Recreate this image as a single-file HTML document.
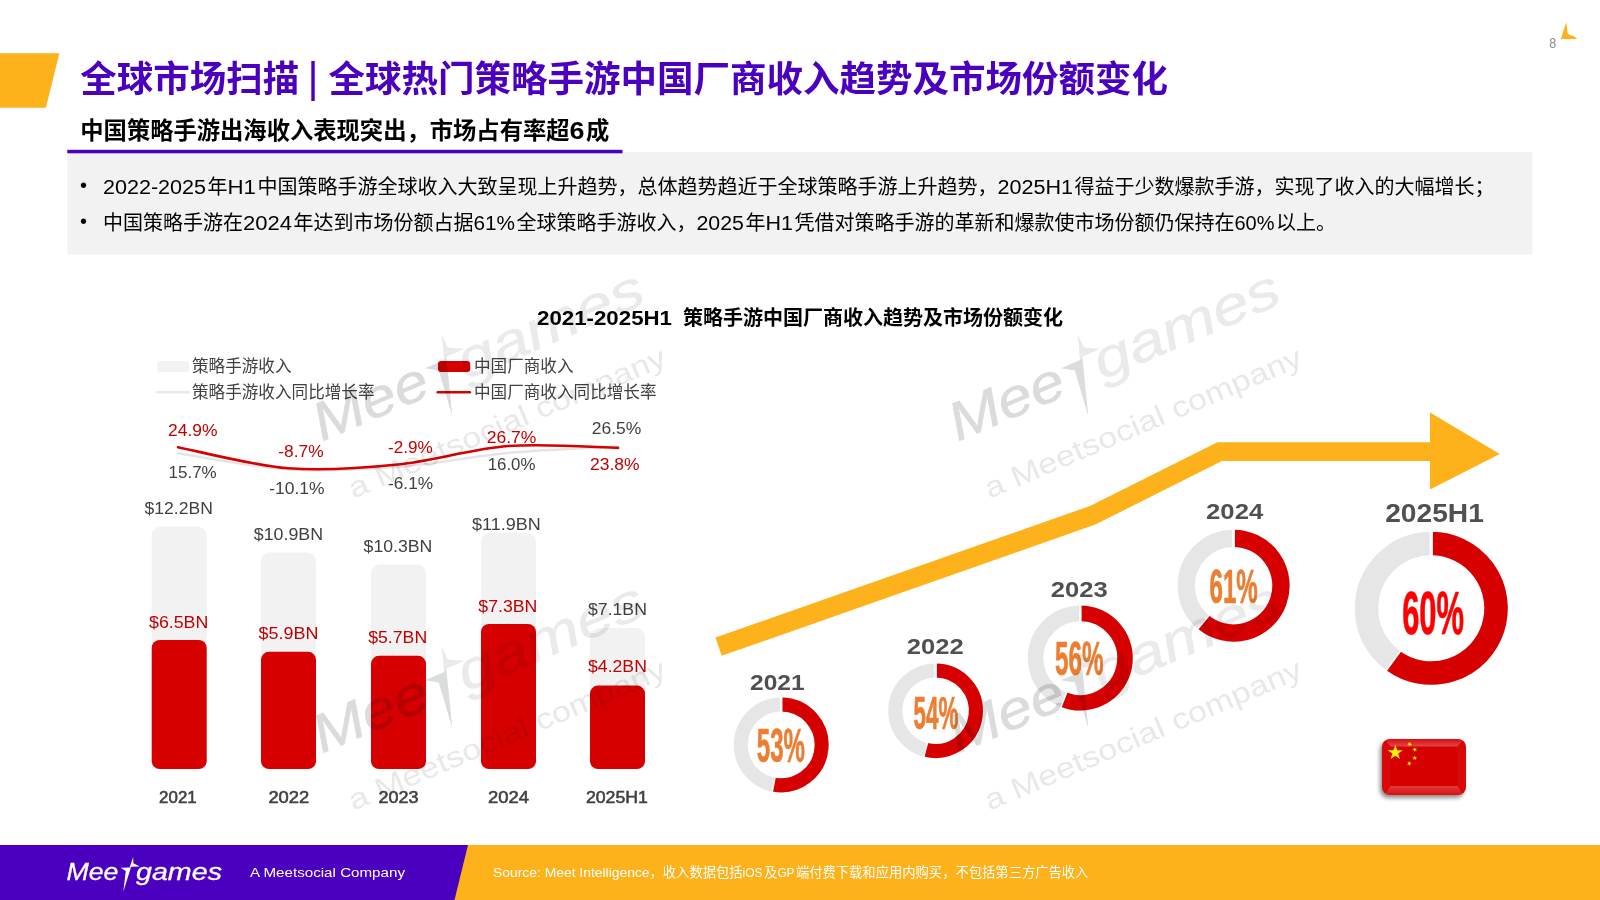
<!DOCTYPE html>
<html lang="zh-CN"><head><meta charset="utf-8"><title>全球市场扫描</title>
<style>html,body{margin:0;padding:0;background:#fff;}body{width:1600px;height:900px;overflow:hidden;}svg{display:block;font-family:"Liberation Sans","Noto Sans CJK SC",sans-serif;}</style></head><body>
<svg width="1600" height="900" viewBox="0 0 1600 900">
<polygon points="0,53.3 59.4,53.3 45.9,107.8 0,107.8" fill="#FDB21B"/>
<text x="80.2" y="91.8" font-size="36.5" fill="#4A00BE" font-weight="700">全球市场扫描</text>
<text x="307.5" y="92.3" font-size="42.5" fill="#4A00BE">|</text>
<text x="328.5" y="91.8" font-size="36.5" fill="#4A00BE" font-weight="700">全球热门策略手游中国厂商收入趋势及市场份额变化</text>
<text x="80.3" y="139.4" font-size="23.3" fill="#000" font-weight="700">中国策略手游出海收入表现突出，市场占有率超</text>
<text x="569.6" y="139.4" font-size="23.3" fill="#000" font-weight="700" textLength="15.0" lengthAdjust="spacingAndGlyphs">6</text>
<text x="586.1" y="139.4" font-size="23.3" fill="#000" font-weight="700">成</text>
<rect x="67.3" y="152" width="1465.1" height="102.5" fill="#F2F2F2"/>
<rect x="67.3" y="149.8" width="555.2" height="3.5" fill="#4A00BE"/>
<text x="80.1" y="192.2" font-size="20" fill="#000">•</text>
<text x="80.1" y="228" font-size="20" fill="#000">•</text>
<text x="103.0" y="193.7" font-size="20" fill="#000" textLength="103.0" lengthAdjust="spacingAndGlyphs">2022-2025</text>
<text x="207.5" y="193.7" font-size="20" fill="#000">年</text>
<text x="227.5" y="193.7" font-size="20" fill="#000" textLength="28.5" lengthAdjust="spacingAndGlyphs">H1</text>
<text x="257.5" y="193.7" font-size="20" fill="#000">中国策略手游全球收入大致呈现上升趋势，总体趋势趋近于全球策略手游上升趋势，</text>
<text x="997.5" y="193.7" font-size="20" fill="#000" textLength="75.5" lengthAdjust="spacingAndGlyphs">2025H1</text>
<text x="1074.5" y="193.7" font-size="20" fill="#000">得益于少数爆款手游，实现了收入的大幅增长；</text>
<text x="103" y="230" font-size="20" fill="#000">中国策略手游在</text>
<text x="243.0" y="230" font-size="20" fill="#000" textLength="49.0" lengthAdjust="spacingAndGlyphs">2024</text>
<text x="293.5" y="230" font-size="20" fill="#000">年达到市场份额占据</text>
<text x="473.5" y="230" font-size="20" fill="#000" textLength="41.5" lengthAdjust="spacingAndGlyphs">61%</text>
<text x="516.5" y="230" font-size="20" fill="#000">全球策略手游收入，</text>
<text x="696.5" y="230" font-size="20" fill="#000" textLength="47.5" lengthAdjust="spacingAndGlyphs">2025</text>
<text x="745.5" y="230" font-size="20" fill="#000">年</text>
<text x="765.5" y="230" font-size="20" fill="#000" textLength="27.5" lengthAdjust="spacingAndGlyphs">H1</text>
<text x="794.5" y="230" font-size="20" fill="#000">凭借对策略手游的革新和爆款使市场份额仍保持在</text>
<text x="1234.5" y="230" font-size="20" fill="#000" textLength="40.0" lengthAdjust="spacingAndGlyphs">60%</text>
<text x="1276.0" y="230" font-size="20" fill="#000">以上。</text>
<text x="1549.2" y="48.2" font-size="14.5" fill="#8C8C8C" textLength="7" lengthAdjust="spacingAndGlyphs">8</text>
<path d="M1560.8,38.9 L1566.3,22 L1567.6,33 Q1568.2,34.6 1570.2,35.1 L1573.6,36.1 L1577.3,38.9 Z" fill="#FDB21B"/>
<text x="537" y="325.2" font-size="20" fill="#000" font-weight="700" textLength="135" lengthAdjust="spacingAndGlyphs">2021-2025H1</text>
<text x="683" y="325.2" font-size="20" fill="#000" font-weight="700">策略手游中国厂商收入趋势及市场份额变化</text>
<rect x="157" y="361" width="32" height="11" rx="3" fill="#F2F2F2"/>
<rect x="438" y="361" width="32.2" height="11" rx="3" fill="#D60000"/>
<line x1="157.5" y1="392.3" x2="189" y2="392.3" stroke="#E9E9E9" stroke-width="2.6" stroke-linecap="round"/>
<line x1="437.7" y1="392.3" x2="469.8" y2="392.3" stroke="#D60000" stroke-width="2.6" stroke-linecap="round"/>
<text x="192" y="371.5" font-size="16.6" fill="#404040">策略手游收入</text>
<text x="474" y="371.5" font-size="16.6" fill="#404040">中国厂商收入</text>
<text x="192" y="397.8" font-size="16.6" fill="#404040">策略手游收入同比增长率</text>
<text x="474" y="397.8" font-size="16.6" fill="#404040">中国厂商收入同比增长率</text>
<rect x="151.7" y="526.7" width="55" height="242.3" rx="9" fill="#F2F2F2"/>
<rect x="151.7" y="639.9" width="55" height="129.1" rx="8" fill="#D60000"/>
<rect x="261" y="552.5" width="55" height="216.5" rx="9" fill="#F2F2F2"/>
<rect x="261" y="651.8" width="55" height="117.2" rx="8" fill="#D60000"/>
<rect x="371" y="564.4" width="55" height="204.6" rx="9" fill="#F2F2F2"/>
<rect x="371" y="655.8" width="55" height="113.2" rx="8" fill="#D60000"/>
<rect x="481" y="532.7" width="55" height="236.3" rx="9" fill="#F2F2F2"/>
<rect x="481" y="624.0" width="55" height="145.0" rx="8" fill="#D60000"/>
<rect x="590" y="628.0" width="55" height="141.0" rx="9" fill="#F2F2F2"/>
<rect x="590" y="685.6" width="55" height="83.4" rx="8" fill="#D60000"/>
<text x="144.6" y="513.6" font-size="15.6" fill="#404040" textLength="68.3" lengthAdjust="spacingAndGlyphs">$12.2BN</text>
<text x="253.8" y="539.9" font-size="15.6" fill="#404040" textLength="69.3" lengthAdjust="spacingAndGlyphs">$10.9BN</text>
<text x="363.6" y="551.6" font-size="15.6" fill="#404040" textLength="68.7" lengthAdjust="spacingAndGlyphs">$10.3BN</text>
<text x="472.0" y="530.4" font-size="15.6" fill="#404040" textLength="68.7" lengthAdjust="spacingAndGlyphs">$11.9BN</text>
<text x="588.0" y="614.9" font-size="15.6" fill="#404040" textLength="58.9" lengthAdjust="spacingAndGlyphs">$7.1BN</text>
<text x="149.0" y="627.8" font-size="15.6" fill="#C00000" textLength="59.3" lengthAdjust="spacingAndGlyphs">$6.5BN</text>
<text x="258.6" y="639.4" font-size="15.6" fill="#C00000" textLength="59.8" lengthAdjust="spacingAndGlyphs">$5.9BN</text>
<text x="368.2" y="642.5" font-size="15.6" fill="#C00000" textLength="59.0" lengthAdjust="spacingAndGlyphs">$5.7BN</text>
<text x="478.3" y="612.2" font-size="15.6" fill="#C00000" textLength="59.0" lengthAdjust="spacingAndGlyphs">$7.3BN</text>
<text x="588.0" y="671.7" font-size="15.6" fill="#C00000" textLength="58.9" lengthAdjust="spacingAndGlyphs">$4.2BN</text>
<text x="159.1" y="802.8" font-size="16.4" fill="#404040" textLength="37.6" lengthAdjust="spacingAndGlyphs" stroke="#404040" stroke-width="0.55">2021</text>
<text x="268.4" y="802.8" font-size="16.4" fill="#404040" textLength="40.8" lengthAdjust="spacingAndGlyphs" stroke="#404040" stroke-width="0.55">2022</text>
<text x="378.4" y="802.8" font-size="16.4" fill="#404040" textLength="40.0" lengthAdjust="spacingAndGlyphs" stroke="#404040" stroke-width="0.55">2023</text>
<text x="487.9" y="802.8" font-size="16.4" fill="#404040" textLength="41.0" lengthAdjust="spacingAndGlyphs" stroke="#404040" stroke-width="0.55">2024</text>
<text x="585.9" y="802.8" font-size="16.4" fill="#404040" textLength="62.0" lengthAdjust="spacingAndGlyphs" stroke="#404040" stroke-width="0.55">2025H1</text>
<text x="168.1" y="435.9" font-size="15.6" fill="#C00000" textLength="49.5" lengthAdjust="spacingAndGlyphs">24.9%</text>
<text x="168.6" y="477.9" font-size="15.6" fill="#404040" textLength="48.1" lengthAdjust="spacingAndGlyphs">15.7%</text>
<text x="278.3" y="457.3" font-size="15.6" fill="#C00000" textLength="45.3" lengthAdjust="spacingAndGlyphs">-8.7%</text>
<text x="269.2" y="494" font-size="15.6" fill="#404040" textLength="55.3" lengthAdjust="spacingAndGlyphs">-10.1%</text>
<text x="388.0" y="452.9" font-size="15.6" fill="#C00000" textLength="44.8" lengthAdjust="spacingAndGlyphs">-2.9%</text>
<text x="388.0" y="488.8" font-size="15.6" fill="#404040" textLength="45.1" lengthAdjust="spacingAndGlyphs">-6.1%</text>
<text x="486.8" y="443.3" font-size="15.6" fill="#C00000" textLength="49.6" lengthAdjust="spacingAndGlyphs">26.7%</text>
<text x="487.7" y="469.9" font-size="15.6" fill="#404040" textLength="47.8" lengthAdjust="spacingAndGlyphs">16.0%</text>
<text x="591.8" y="433.6" font-size="15.6" fill="#404040" textLength="49.6" lengthAdjust="spacingAndGlyphs">26.5%</text>
<text x="590.1" y="469.5" font-size="15.6" fill="#C00000" textLength="49.5" lengthAdjust="spacingAndGlyphs">23.8%</text>
<path d="M178,453.25 C196.33,455.94 251.33,467.10 288,469.38 C324.67,471.65 361.33,469.59 398,466.88 C434.67,464.16 471.33,456.46 508,453.06 C544.67,449.67 599.67,447.59 618,446.50" fill="none" stroke="#E4E4E4" stroke-width="2.4" stroke-linecap="round"/>
<path d="M178,447.20 C196.33,450.70 251.33,465.30 288,468.20 C324.67,471.10 361.33,468.26 398,464.57 C434.67,460.89 471.33,448.86 508,446.07 C544.67,443.29 599.67,447.59 618,447.89" fill="none" stroke="#D60000" stroke-width="2.6" stroke-linecap="round"/>
<polygon points="715.5,637.6 1090,506 1217.4,442.2 1430,442.2 1430,412.4 1499.8,454 1430,489.4 1430,460.9 1222,460.9 1095.3,524.6 721.7,655.8" fill="#FDB21B"/>
<circle cx="781.2" cy="744.9" r="40.4" fill="none" stroke="#E6E6E6" stroke-width="14"/>
<path d="M781.20,704.50 A40.4,40.4 0 1 1 773.63,784.58" fill="none" stroke="#D60000" stroke-width="14"/>
<line x1="781.20" y1="696.50" x2="781.20" y2="712.50" stroke="#fff" stroke-width="2.6"/>
<line x1="772.13" y1="792.44" x2="775.13" y2="776.73" stroke="#fff" stroke-width="1.56"/>
<text x="750.0" y="689.9" font-size="22.8" fill="#505050" font-weight="700" textLength="54.6" lengthAdjust="spacingAndGlyphs">2021</text>
<text x="756.8" y="762" font-size="47.5" fill="#ED7D31" font-weight="700" textLength="48.2" lengthAdjust="spacingAndGlyphs" stroke="#ED7D31" stroke-width="0.7" stroke-linejoin="round">53%</text>
<circle cx="935.6" cy="710.7" r="40.3" fill="none" stroke="#E6E6E6" stroke-width="14"/>
<path d="M935.60,670.40 A40.3,40.3 0 1 1 925.58,749.73" fill="none" stroke="#D60000" stroke-width="14"/>
<line x1="935.60" y1="662.40" x2="935.60" y2="678.40" stroke="#fff" stroke-width="2.6"/>
<line x1="923.59" y1="757.48" x2="927.57" y2="741.99" stroke="#fff" stroke-width="1.56"/>
<text x="906.8" y="653.6" font-size="22.8" fill="#505050" font-weight="700" textLength="56.9" lengthAdjust="spacingAndGlyphs">2022</text>
<text x="913.6" y="728.9" font-size="46" fill="#ED7D31" font-weight="700" textLength="44.9" lengthAdjust="spacingAndGlyphs" stroke="#ED7D31" stroke-width="0.7" stroke-linejoin="round">54%</text>
<circle cx="1080.3" cy="658.1" r="44.7" fill="none" stroke="#E6E6E6" stroke-width="15.6"/>
<path d="M1080.30,613.40 A44.7,44.7 0 1 1 1063.84,699.66" fill="none" stroke="#D60000" stroke-width="15.6"/>
<line x1="1080.30" y1="604.60" x2="1080.30" y2="622.20" stroke="#fff" stroke-width="2.6"/>
<line x1="1060.61" y1="707.84" x2="1067.08" y2="691.48" stroke="#fff" stroke-width="1.56"/>
<text x="1050.8" y="596.6" font-size="22.8" fill="#505050" font-weight="700" textLength="56.9" lengthAdjust="spacingAndGlyphs">2023</text>
<text x="1055.0" y="675.4" font-size="47.5" fill="#ED7D31" font-weight="700" textLength="48.6" lengthAdjust="spacingAndGlyphs" stroke="#ED7D31" stroke-width="0.7" stroke-linejoin="round">56%</text>
<circle cx="1233.6" cy="585.7" r="47.35" fill="none" stroke="#E6E6E6" stroke-width="17.3"/>
<path d="M1233.60,538.35 A47.35,47.35 0 1 1 1203.42,622.18" fill="none" stroke="#D60000" stroke-width="17.3"/>
<line x1="1233.60" y1="528.70" x2="1233.60" y2="548.00" stroke="#fff" stroke-width="2.6"/>
<line x1="1197.27" y1="629.62" x2="1209.57" y2="614.75" stroke="#fff" stroke-width="1.56"/>
<text x="1206.1" y="519.1" font-size="22.8" fill="#505050" font-weight="700" textLength="57.1" lengthAdjust="spacingAndGlyphs">2024</text>
<text x="1209.5" y="602.8" font-size="47.5" fill="#ED7D31" font-weight="700" textLength="48.3" lengthAdjust="spacingAndGlyphs" stroke="#ED7D31" stroke-width="0.7" stroke-linejoin="round">61%</text>
<circle cx="1431.3" cy="608.3" r="64.75" fill="none" stroke="#E6E6E6" stroke-width="23.5"/>
<path d="M1431.30,543.55 A64.75,64.75 0 1 1 1393.24,660.68" fill="none" stroke="#D60000" stroke-width="23.5"/>
<line x1="1431.30" y1="530.80" x2="1431.30" y2="556.30" stroke="#fff" stroke-width="3.2"/>
<line x1="1385.75" y1="671.00" x2="1400.74" y2="650.37" stroke="#fff" stroke-width="1.92"/>
<text x="1385.2" y="522" font-size="26.5" fill="#505050" font-weight="700" textLength="98.7" lengthAdjust="spacingAndGlyphs">2025H1</text>
<text x="1402.2" y="634.4" font-size="60.5" fill="#FF0000" font-weight="700" textLength="61.8" lengthAdjust="spacingAndGlyphs" stroke="#FF0000" stroke-width="0.7" stroke-linejoin="round">60%</text>
<defs><filter id="fs" x="-20%" y="-20%" width="140%" height="150%"><feGaussianBlur stdDeviation="2"/></filter><linearGradient id="fg" x1="0" y1="0" x2="0" y2="1"><stop offset="0" stop-color="#E82020"/><stop offset="0.14" stop-color="#F03030"/><stop offset="0.2" stop-color="#D60000"/><stop offset="0.8" stop-color="#D60000"/><stop offset="0.86" stop-color="#EE2828"/><stop offset="1" stop-color="#E01515"/></linearGradient></defs>
<rect x="1380" y="742" width="84" height="56" rx="8" fill="#000" opacity="0.45" filter="url(#fs)"/>
<clipPath id="fc"><rect x="1382" y="739" width="84" height="56" rx="8"/></clipPath>
<rect x="1382" y="739" width="84" height="56" rx="8" fill="#D60000"/>
<linearGradient id="ft" x1="0" y1="739" x2="0" y2="746.5" gradientUnits="userSpaceOnUse"><stop offset="0" stop-color="#fff" stop-opacity="0.06"/><stop offset="1" stop-color="#fff" stop-opacity="0.28"/></linearGradient><linearGradient id="fb" x1="0" y1="786" x2="0" y2="795" gradientUnits="userSpaceOnUse"><stop offset="0" stop-color="#fff" stop-opacity="0.24"/><stop offset="1" stop-color="#fff" stop-opacity="0.06"/></linearGradient>
<g clip-path="url(#fc)"><polygon points="1384,739 1464,739 1457.5,746.5 1390.5,746.5" fill="url(#ft)"/><polygon points="1384,795 1464,795 1457.5,786 1390.5,786" fill="url(#fb)"/><polygon points="1382,741 1390.5,746.5 1390.5,786 1382,793" fill="#fff" opacity="0.035"/><polygon points="1466,741 1457.5,746.5 1457.5,786 1466,793" fill="#fff" opacity="0.035"/></g>
<polygon points="1395.30,744.60 1397.10,750.13 1402.91,750.13 1398.21,753.54 1400.00,759.07 1395.30,755.66 1390.60,759.07 1392.39,753.54 1387.69,750.13 1393.50,750.13" fill="#FFEF00"/>
<polygon points="1410.85,741.92 1410.50,743.77 1412.16,744.68 1410.28,744.92 1409.93,746.78 1409.12,745.07 1407.25,745.31 1408.62,744.02 1407.82,742.31 1409.47,743.21" fill="#FFEF00"/>
<polygon points="1416.84,747.98 1415.79,749.56 1416.97,751.04 1415.15,750.53 1414.10,752.10 1414.02,750.22 1412.20,749.71 1413.97,749.05 1413.89,747.16 1415.07,748.64" fill="#FFEF00"/>
<polygon points="1414.80,755.40 1415.38,757.20 1417.27,757.20 1415.74,758.31 1416.33,760.10 1414.80,758.99 1413.27,760.10 1413.86,758.31 1412.33,757.20 1414.22,757.20" fill="#FFEF00"/>
<polygon points="1410.55,761.32 1410.20,763.17 1411.86,764.08 1409.98,764.32 1409.63,766.18 1408.82,764.47 1406.95,764.71 1408.32,763.42 1407.52,761.71 1409.17,762.61" fill="#FFEF00"/>
<rect x="0" y="845" width="1600" height="55" fill="#FDB21B"/>
<polygon points="0,845 468,845 454.5,900 0,900" fill="#4A00BE"/>
<text x="66.5" y="879.6" font-size="24.5" fill="#fff" textLength="52" lengthAdjust="spacingAndGlyphs" font-style="italic" stroke="#fff" stroke-width="0.3">Mee</text>
<text x="136" y="879.6" font-size="24.5" fill="#fff" textLength="86" lengthAdjust="spacingAndGlyphs" font-style="italic" stroke="#fff" stroke-width="0.3">games</text>
<g transform="translate(67.6,879.5) scale(0.435)"><polygon points="142.6,-27.3 121.9,-27.1 133.7,-19.5 128.1,28.1 146,-29.3" fill="#fff"/><polygon points="150.7,-51.6 142.6,-27.3 146,-29.3 165.9,-29.6 151.2,-37.2" fill="#fff"/></g>
<text x="250" y="877.4" font-size="12.7" fill="#fff" textLength="155" lengthAdjust="spacingAndGlyphs">A Meetsocial Company</text>
<text x="493" y="876.8" font-size="13.2" fill="#fff" textLength="156.5" lengthAdjust="spacingAndGlyphs">Source: Meet Intelligence</text>
<text x="649.5" y="876.8" font-size="13.3" fill="#fff">，收入数据包括</text>
<text x="742.6" y="876.8" font-size="13.3" fill="#fff" textLength="20.0" lengthAdjust="spacingAndGlyphs">iOS</text>
<text x="764.1" y="876.8" font-size="13.3" fill="#fff">及</text>
<text x="777.4" y="876.8" font-size="13.3" fill="#fff" textLength="17.0" lengthAdjust="spacingAndGlyphs">GP</text>
<text x="795.9" y="876.8" font-size="13.3" fill="#fff">端付费下载和应用内购买，不包括第三方广告收入</text>
<g transform="translate(323.5,441) rotate(-23.1)" style="mix-blend-mode:multiply"><text x="-2" y="0" font-size="54" font-style="italic" fill="#DADBDC" stroke="#DADBDC" stroke-width="0.5" textLength="121" lengthAdjust="spacingAndGlyphs">Mee</text><polygon points="142.6,-27.3 121.9,-27.1 133.7,-19.5 128.1,28.1 146,-29.3" fill="#DBDCDD"/><polygon points="150.7,-51.6 142.6,-27.3 146,-29.3 165.9,-29.6 151.2,-37.2" fill="#EAEAEC"/><text x="155" y="0" font-size="54" font-style="italic" fill="#EAEAED" stroke="#EAEAED" stroke-width="0.5" textLength="198" lengthAdjust="spacingAndGlyphs">games</text><text x="5" y="65" font-size="29" fill="#E8E8E9" textLength="342" lengthAdjust="spacingAndGlyphs">a Meetsocial company</text></g>
<g transform="translate(959.5,441) rotate(-23.1)" style="mix-blend-mode:multiply"><text x="-2" y="0" font-size="54" font-style="italic" fill="#DADBDC" stroke="#DADBDC" stroke-width="0.5" textLength="121" lengthAdjust="spacingAndGlyphs">Mee</text><polygon points="142.6,-27.3 121.9,-27.1 133.7,-19.5 128.1,28.1 146,-29.3" fill="#DBDCDD"/><polygon points="150.7,-51.6 142.6,-27.3 146,-29.3 165.9,-29.6 151.2,-37.2" fill="#EAEAEC"/><text x="155" y="0" font-size="54" font-style="italic" fill="#EAEAED" stroke="#EAEAED" stroke-width="0.5" textLength="198" lengthAdjust="spacingAndGlyphs">games</text><text x="5" y="65" font-size="29" fill="#E8E8E9" textLength="342" lengthAdjust="spacingAndGlyphs">a Meetsocial company</text></g>
<g transform="translate(323.5,753) rotate(-23.1)" style="mix-blend-mode:multiply"><text x="-2" y="0" font-size="54" font-style="italic" fill="#DADBDC" stroke="#DADBDC" stroke-width="0.5" textLength="121" lengthAdjust="spacingAndGlyphs">Mee</text><polygon points="142.6,-27.3 121.9,-27.1 133.7,-19.5 128.1,28.1 146,-29.3" fill="#DBDCDD"/><polygon points="150.7,-51.6 142.6,-27.3 146,-29.3 165.9,-29.6 151.2,-37.2" fill="#EAEAEC"/><text x="155" y="0" font-size="54" font-style="italic" fill="#EAEAED" stroke="#EAEAED" stroke-width="0.5" textLength="198" lengthAdjust="spacingAndGlyphs">games</text><text x="5" y="65" font-size="29" fill="#E8E8E9" textLength="342" lengthAdjust="spacingAndGlyphs">a Meetsocial company</text></g>
<g transform="translate(959.5,753) rotate(-23.1)" style="mix-blend-mode:multiply"><text x="-2" y="0" font-size="54" font-style="italic" fill="#DADBDC" stroke="#DADBDC" stroke-width="0.5" textLength="121" lengthAdjust="spacingAndGlyphs">Mee</text><polygon points="142.6,-27.3 121.9,-27.1 133.7,-19.5 128.1,28.1 146,-29.3" fill="#DBDCDD"/><polygon points="150.7,-51.6 142.6,-27.3 146,-29.3 165.9,-29.6 151.2,-37.2" fill="#EAEAEC"/><text x="155" y="0" font-size="54" font-style="italic" fill="#EAEAED" stroke="#EAEAED" stroke-width="0.5" textLength="198" lengthAdjust="spacingAndGlyphs">games</text><text x="5" y="65" font-size="29" fill="#E8E8E9" textLength="342" lengthAdjust="spacingAndGlyphs">a Meetsocial company</text></g>
</svg>
</body></html>
